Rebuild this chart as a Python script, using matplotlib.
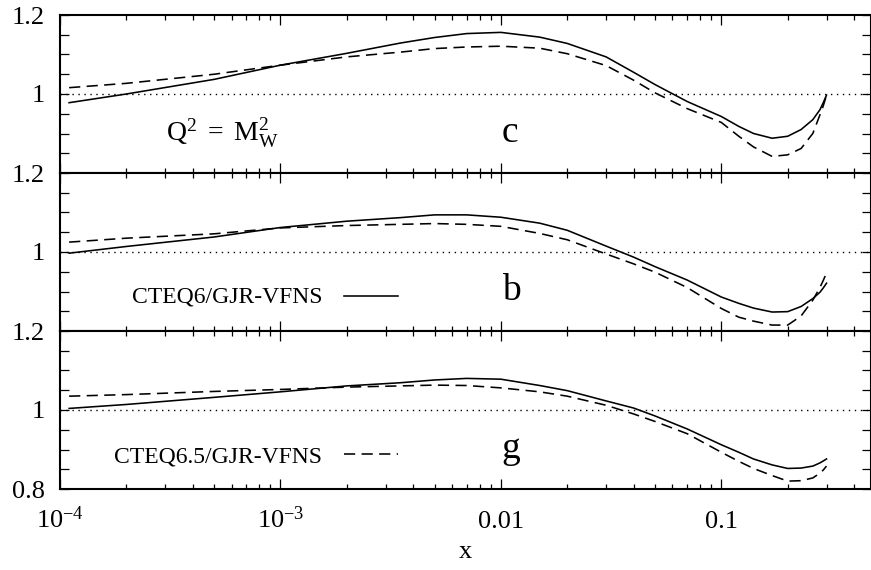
import numpy as np
import matplotlib
matplotlib.use('Agg')
import matplotlib.pyplot as plt
from matplotlib.ticker import FixedLocator, FuncFormatter, NullFormatter

plt.rcParams['font.family'] = 'serif'
plt.rcParams['font.serif'] = ['Liberation Serif', 'DejaVu Serif']
plt.rcParams['mathtext.fontset'] = 'custom'
plt.rcParams['mathtext.rm'] = 'Liberation Serif'
plt.rcParams['mathtext.it'] = 'Liberation Serif:italic'
plt.rcParams['mathtext.bf'] = 'Liberation Serif:bold'

# ---- data ----
x = [1.1e-4, 2e-4, 5e-4, 1e-3, 2e-3, 3.5e-3, 5e-3, 7e-3, 0.01, 0.015, 0.02, 0.03,
     0.04, 0.05, 0.07, 0.1, 0.12, 0.14, 0.17, 0.2, 0.23, 0.26, 0.28, 0.29, 0.3]

c_cteq6 = [0.978, 1.000, 1.037, 1.073, 1.103, 1.129, 1.143, 1.153, 1.156, 1.144, 1.128, 1.094,
           1.055, 1.024, 0.981, 0.943, 0.918, 0.900, 0.888, 0.893, 0.910, 0.935, 0.960, 0.978, 0.997]
c_cteq65 = [1.016, 1.027, 1.050, 1.073, 1.094, 1.106, 1.115, 1.119, 1.121, 1.116, 1.102, 1.072,
            1.035, 1.003, 0.963, 0.928, 0.893, 0.866, 0.842, 0.846, 0.862, 0.900, 0.947, 0.970, 0.997]

b_cteq6 = [0.997, 1.014, 1.038, 1.062, 1.078, 1.087, 1.094, 1.094, 1.088, 1.073, 1.055, 1.015,
           0.987, 0.963, 0.929, 0.886, 0.870, 0.858, 0.848, 0.849, 0.862, 0.882, 0.898, 0.909, 0.921]
b_cteq65 = [1.025, 1.035, 1.046, 1.061, 1.067, 1.070, 1.072, 1.070, 1.065, 1.047, 1.031, 0.995,
            0.970, 0.949, 0.910, 0.857, 0.835, 0.825, 0.815, 0.815, 0.838, 0.878, 0.910, 0.928, 0.947]

g_cteq6 = [1.004, 1.014, 1.032, 1.046, 1.061, 1.069, 1.076, 1.080, 1.078, 1.062, 1.049, 1.023,
           1.005, 0.985, 0.952, 0.912, 0.893, 0.876, 0.861, 0.852, 0.853, 0.858, 0.866, 0.871, 0.876]
g_cteq65 = [1.035, 1.039, 1.047, 1.052, 1.058, 1.061, 1.063, 1.062, 1.056, 1.046, 1.035, 1.012,
            0.990, 0.971, 0.940, 0.893, 0.870, 0.852, 0.834, 0.820, 0.821, 0.828, 0.840, 0.848, 0.858]

panel_letters = ['c', 'b', 'g']
series_solid = [c_cteq6, b_cteq6, g_cteq6]
series_dashed = [c_cteq65, b_cteq65, g_cteq65]
label_solid = 'CTEQ6/GJR-VFNS'
label_dashed = 'CTEQ6.5/GJR-VFNS'
q2_text = r'$\mathrm{Q^2\,\,=\,\,M_W^2}$'

xticks = [1e-4, 1e-3, 1e-2, 1e-1]
xticklabels = [r'$\mathrm{10^{-4}}$', r'$\mathrm{10^{-3}}$', '0.01', '0.1']
yticks = [0.8, 0.85, 0.9, 0.95, 1.0, 1.05, 1.1, 1.15, 1.2]

# ---- layout ----
W, H = 871, 570
fig = plt.figure(figsize=(W / 100, H / 100), dpi=100)
left = 60 / W
width = (870.5 - 60) / W
ph = 158 / H
tops = [15, 173, 331]

dash_style = (0, (7, 4))
axes = []
for i in range(3):
    y0 = 1 - (tops[i] + 158) / H
    ax = fig.add_axes([left, y0, width, ph])
    axes.append(ax)
    ax.set_xscale('log')
    ax.set_xlim(1e-4, 0.475)
    ax.set_ylim(0.8, 1.2)

    ax.plot(x, series_solid[i], color='black', lw=1.15, solid_joinstyle='round')
    ax.plot(x, series_dashed[i], color='black', lw=1.15, linestyle=dash_style)
    ax.axhline(1.0, color='black', lw=1.0, linestyle=(0, (1, 3.3)))

    for s in ax.spines.values():
        s.set_linewidth(1.5)

    ax.xaxis.set_major_locator(FixedLocator(xticks))
    minors = [m * 10.0 ** e for e in range(-4, 0) for m in range(2, 10)]
    ax.xaxis.set_minor_locator(FixedLocator(minors))
    ax.xaxis.set_minor_formatter(NullFormatter())
    ax.yaxis.set_major_locator(FixedLocator(yticks))

    show_low = (i == 2)

    def yfmt(v, pos, show_low=show_low):
        if abs(v - 1.2) < 1e-6:
            return '1.2'
        if abs(v - 1.0) < 1e-6:
            return '1'
        if abs(v - 0.8) < 1e-6 and show_low:
            return '0.8'
        return ''
    ax.yaxis.set_major_formatter(FuncFormatter(yfmt))

    ax.tick_params(which='both', direction='in', top=True, right=True,
                   labelsize=19, width=0.9)
    ax.tick_params(axis='x', which='major', length=7)
    ax.tick_params(axis='x', which='minor', length=3.5)
    ax.tick_params(axis='y', which='major', length=6.5, pad=11)

    if i < 2:
        ax.set_xticklabels([])
    else:
        ax.set_xticklabels(xticklabels)
        ax.tick_params(axis='x', which='major', pad=28)
        for lab in ax.get_xticklabels():
            lab.set_verticalalignment('baseline')
        ax.set_xlabel('x', fontsize=19, labelpad=6)

    ax.text(0.0101, 0.878, panel_letters[i], fontsize=27)

axes[0].text((166 - 60) / 810.5, (0.881 - 0.8) / 0.4, q2_text, fontsize=20,
             transform=axes[0].transAxes)

# legend-like labels
axes[1].text((322 - 60) / 810.5, (0.873 - 0.8) / 0.4, label_solid, fontsize=17,
             ha='right', transform=axes[1].transAxes)
axes[1].plot([(344 - 60) / 810.5, (398 - 60) / 810.5], [(0.888 - 0.8) / 0.4] * 2,
             color='black', lw=1.15, transform=axes[1].transAxes)
axes[2].text((322 - 60) / 810.5, (0.868 - 0.8) / 0.4, label_dashed, fontsize=17,
             ha='right', transform=axes[2].transAxes)
axes[2].plot([(344 - 60) / 810.5, (398 - 60) / 810.5], [(0.888 - 0.8) / 0.4] * 2,
             color='black', lw=1.15, linestyle=dash_style, transform=axes[2].transAxes)

fig.savefig('out.png', dpi=100)
